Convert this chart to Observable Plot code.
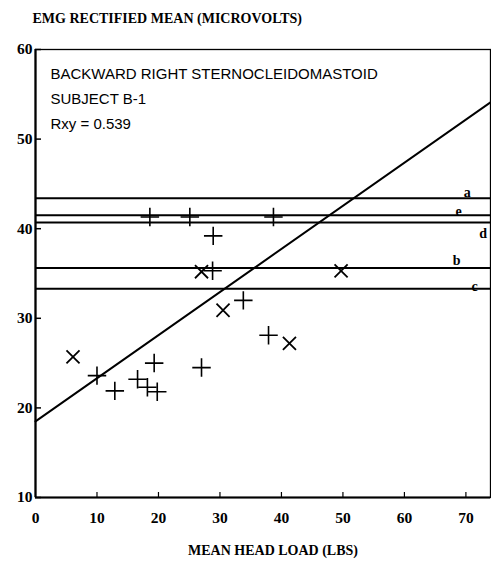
<!DOCTYPE html>
<html>
<head>
<meta charset="utf-8">
<script src="https://cdn.jsdelivr.net/npm/d3@7"></script>
<script src="https://cdn.jsdelivr.net/npm/@observablehq/plot@0.6"></script>
<style>
  html, body { margin: 0; padding: 0; background: #fff; }
</style>
</head>
<body>
<div id="chart"></div>
<script>
// Horizontal reference lines
const lineNames  = ["a", "e", "d", "b", "c"];
const lineValues = [43.4, 41.5, 40.7, 35.6, 33.3];
const labelX     = [70.2, 68.8, 72.8, 68.5, 71.4];
const labelY     = [44.0, 41.9, 39.5, 36.5, 33.6];

// Regression line (Rxy = 0.539)
const regX = [0, 74];
const regY = [18.5, 54.1];

// "+" data points
const plusX = [10.0, 12.9, 16.6, 18.2, 19.8, 19.3, 27.0, 28.8, 33.8, 37.9, 28.9, 18.6, 25.1, 38.7];
const plusY = [23.6, 21.9, 23.2, 22.3, 21.8, 25.0, 24.5, 35.3, 32.0, 28.1, 39.2, 41.3, 41.3, 41.3];

// "x" data points
const timesX = [6.1, 27.0, 30.5, 41.3, 49.7];
const timesY = [25.7, 35.2, 30.9, 27.2, 35.3];

// Ticks
const xTicks = [0, 10, 20, 30, 40, 50, 60, 70];
const yTicks = [10, 20, 30, 40, 50, 60];

const boxText = ["BACKWARD RIGHT STERNOCLEIDOMASTOID", "SUBJECT B-1", "Rxy = 0.539"];
const yTitle = "EMG RECTIFIED MEAN (MICROVOLTS)";
const xTitle = "MEAN HEAD LOAD (LBS)";

const plusData = plusX.map((x, i) => ({x, y: plusY[i]}));
const timesData = timesX.map((x, i) => ({x, y: timesY[i]}));
const regData = regX.map((x, i) => ({x, y: regY[i]}));
const labelData = lineNames.map((n, i) => ({n, x: labelX[i], y: labelY[i]}));

const serif = "'Liberation Serif', 'DejaVu Serif', serif";
const sans = "'Liberation Sans', Arial, sans-serif";

const chart = Plot.plot({
  width: 491,
  height: 569,
  marginTop: 49,
  marginBottom: 72,
  marginLeft: 35,
  marginRight: 1,
  x: {domain: [0, 74], axis: null},
  y: {domain: [10, 60], axis: null},
  marks: [
    Plot.frame({stroke: "black", strokeWidth: 1.3}),
    Plot.ruleX([0], {stroke: "black", strokeWidth: 2.2}),
    Plot.ruleY([10], {stroke: "black", strokeWidth: 2.2}),
    // inward ticks
    Plot.tickY(yTicks, {y: d => d, insetRight: 449, stroke: "black", strokeWidth: 1.5}),
    Plot.tickX(xTicks.slice(1), {x: d => d, insetTop: 443, stroke: "black", strokeWidth: 1.2}),
    // tick labels
    Plot.text(yTicks, {y: d => d, frameAnchor: "left", dx: -3, textAnchor: "end",
      text: d => String(d), fontFamily: serif, fontWeight: "bold", fontSize: 15.5, fill: "black"}),
    Plot.text(xTicks, {x: d => d, frameAnchor: "bottom", dy: 21, lineAnchor: "middle",
      text: d => String(d), fontFamily: serif, fontWeight: "bold", fontSize: 15.5, fill: "black"}),
    // axis titles
    Plot.text([yTitle], {frameAnchor: "top-left", dx: -3, dy: -31, textAnchor: "start", lineAnchor: "middle",
      fontFamily: serif, fontWeight: "bold", fontSize: 14, fill: "black"}),
    Plot.text([xTitle], {frameAnchor: "bottom", dx: 10, dy: 53, lineAnchor: "middle",
      fontFamily: serif, fontWeight: "bold", fontSize: 14, fill: "black"}),
    // box text
    Plot.text([boxText.join("\n")], {frameAnchor: "top-left", dx: 15, dy: 12, textAnchor: "start", lineAnchor: "top",
      lineHeight: 1.67, fontFamily: sans, fontSize: 15, fill: "black"}),
    // horizontal lines
    Plot.ruleY(lineValues, {stroke: "black", strokeWidth: 2}),
    Plot.text(labelData, {x: "x", y: "y", text: "n", fontFamily: serif, fontWeight: "bold", fontSize: 14, fill: "black"}),
    // regression
    Plot.line(regData, {x: "x", y: "y", stroke: "black", strokeWidth: 2}),
    // points
    Plot.dot(plusData, {x: "x", y: "y", symbol: "plus", r: 6, stroke: "black", strokeWidth: 1.6}),
    Plot.dot(timesData, {x: "x", y: "y", symbol: "times", r: 6, stroke: "black", strokeWidth: 1.8})
  ]
});
document.getElementById("chart").appendChild(chart);
</script>
</body>
</html>
